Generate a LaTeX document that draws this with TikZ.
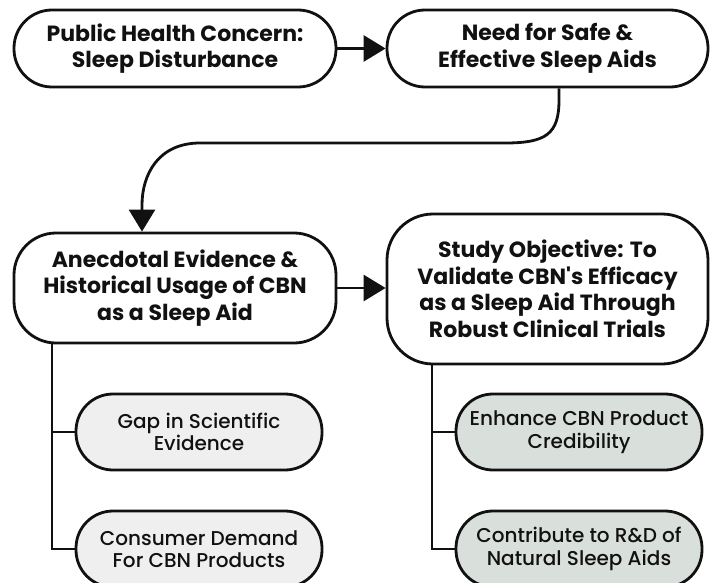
\documentclass[tikz,border=0pt]{standalone}
\usepackage{fontspec}
\setmainfont{Poppins}
\newfontfamily\headfont{Poppins Bold}
\newfontfamily\subfont{Poppins Medium}
\usetikzlibrary{arrows.meta}
\definecolor{inkc}{HTML}{111111}
\definecolor{greyfill}{HTML}{EFEFEF}
\definecolor{sagefill}{HTML}{D9DFDA}
\begin{document}
\begin{tikzpicture}[x=1pt,y=-1pt,
  line width=2.8pt, draw=inkc,
  mainbox/.style={draw=inkc, fill=white, rectangle, rounded corners=38pt,
    align=center, inner sep=0pt, text=inkc, line width=2.8pt,
    font=\headfont\fontsize{22}{26.5}\selectfont},
  subbox/.style={draw=inkc, rectangle, rounded corners=37pt,
    align=center, inner sep=0pt, text=inkc, line width=2.8pt,
    minimum width=246pt, minimum height=76pt,
    font=\subfont\fontsize{20}{22.5}\selectfont},
  flow/.style={-{Triangle[length=22pt,width=26pt]}},
  link/.style={line width=2.8pt}]
\useasboundingbox (0,0) rectangle (717,583);

% main chain
\node[mainbox, minimum width=322pt, minimum height=77pt] (concern) at (175,48.5)
  {Public Health Concern:\\Sleep Disturbance};
\node[mainbox, minimum width=321pt, minimum height=77pt] (need) at (547.5,48.5)
  {Need for Safe \&\\Effective Sleep Aids};
\node[mainbox, minimum width=322pt, minimum height=110pt, rounded corners=42pt]
  (anecdotal) at (175,288) {Anecdotal Evidence \&\\Historical Usage of CBN\\as a Sleep Aid};
\node[mainbox, minimum width=321pt, minimum height=150pt, rounded corners=46pt]
  (objective) at (547.5,289)
  {Study Objective: To\\Validate CBN's Efficacy\\as a Sleep Aid Through\\Robust Clinical Trials};

% outcome boxes
\node[subbox, fill=greyfill] (gap) at (199,432) {Gap in Scientific\\Evidence};
\node[subbox, fill=greyfill] (demand) at (199,549) {Consumer Demand\\For CBN Products};
\node[subbox, fill=sagefill] (credibility) at (579,432) {Enhance CBN Product\\Credibility};
\node[subbox, fill=sagefill] (research) at (579,549) {Contribute to R\&D of\\Natural Sleep Aids};

% arrows
\draw[flow] (concern.east) -- (need.west);
\draw[flow] (anecdotal.east |- 0,288) -- (objective.west |- 0,288);

\coordinate (drop) at (559,87);
\coordinate (land) at (142,233);
\draw[flow] (need.south -| drop) -- (559,100)
  .. controls (559,134) and (546,143) .. (505,143) -- (200,143)
  .. controls (158,143) and (142,175) .. (142,205) -- (anecdotal.north -| land);

% tree connectors
\coordinate (lt) at (52,343);
\coordinate (rt) at (432,364);
\draw[link] (anecdotal.south -| lt) -- (lt |- demand.west) -- (demand.west);
\draw[link] (lt |- gap.west) -- (gap.west);
\draw[link] (objective.south -| rt) -- (rt |- research.west) -- (research.west);
\draw[link] (rt |- credibility.west) -- (credibility.west);
\end{tikzpicture}
\end{document}
